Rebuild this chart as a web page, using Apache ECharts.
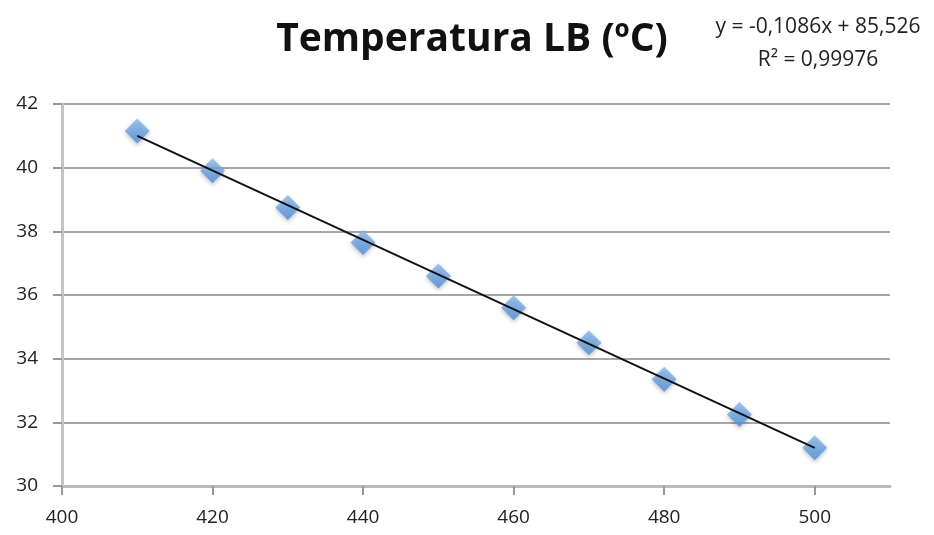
<!DOCTYPE html>
<html>
<head>
<meta charset="utf-8">
<script src="https://cdn.jsdelivr.net/npm/echarts@6/dist/echarts.min.js"></script>
<style>
  html, body { margin: 0; padding: 0; background: #fff; }
  #chart { width: 934px; height: 535px; }
</style>
</head>
<body>
<div id="chart"></div>
<script>
// data
var xValues = [410, 420, 430, 440, 450, 460, 470, 480, 490, 500];
var tempValues = [41.15, 39.9, 38.75, 37.65, 36.6, 35.6, 34.5, 33.35, 32.25, 31.2];
var trendPoints = [[410, 41.0], [500, 31.2]];
var xTicks = [400, 420, 440, 460, 480, 500];
var titleText = 'Temperatura LB (ºC)';
var equationText = 'y = -0,1086x + 85,526\nR² = 0,99976';

var points = xValues.map(function (x, i) { return [x, tempValues[i]]; });

var chart = echarts.init(document.getElementById('chart'));
chart.setOption({
    animation: false,
    title: [{
        text: titleText,
        left: 467,
        textAlign: 'center',
        top: 15,
        textStyle: { fontFamily: 'Open Sans', fontWeight: 'bold', fontSize: 39, color: '#111' }
    }, {
        text: equationText,
        left: 813,
        textAlign: 'center',
        top: 6,
        textStyle: { fontFamily: 'Open Sans', fontWeight: 'normal', fontSize: 21, lineHeight: 33, color: '#222' }
    }],
    grid: { left: 62, right: 44, top: 104, bottom: 49 },
    xAxis: {
        type: 'value',
        min: 400,
        max: 510,
        interval: 20,
        axisLine: { show: true, lineStyle: { color: '#bbb', width: 3 } },
        axisTick: { show: true, length: 9, customValues: xTicks, lineStyle: { color: '#999', width: 2 } },
        axisLabel: { customValues: xTicks, margin: 22, fontFamily: 'Open Sans', fontSize: 19, color: '#222' },
        splitLine: { show: false }
    },
    yAxis: {
        type: 'value',
        min: 30,
        max: 42,
        interval: 2,
        axisLine: { show: true, lineStyle: { color: '#c4c4c4', width: 3 } },
        axisTick: { show: true, length: 9, lineStyle: { color: '#999', width: 2 } },
        axisLabel: { margin: 24, fontFamily: 'Open Sans', fontSize: 19, color: '#222' },
        splitLine: { show: true, lineStyle: { color: '#a6a6a6', width: 2 } }
    },
    series: [{
        type: 'line',
        data: trendPoints,
        showSymbol: false,
        lineStyle: { color: '#111', width: 2 },
        z: 3
    }, {
        type: 'scatter',
        data: points,
        symbol: 'diamond',
        symbolSize: [25, 25],
        itemStyle: {
            color: new echarts.graphic.LinearGradient(0, 0, 0, 1, [
                { offset: 0, color: '#86b9ef' },
                { offset: 1, color: '#4a8fdb' }
            ]),
            shadowColor: 'rgba(0,0,0,0.3)',
            shadowBlur: 4,
            shadowOffsetY: 2
        },
        z: 2
    }]
});
</script>
</body>
</html>
